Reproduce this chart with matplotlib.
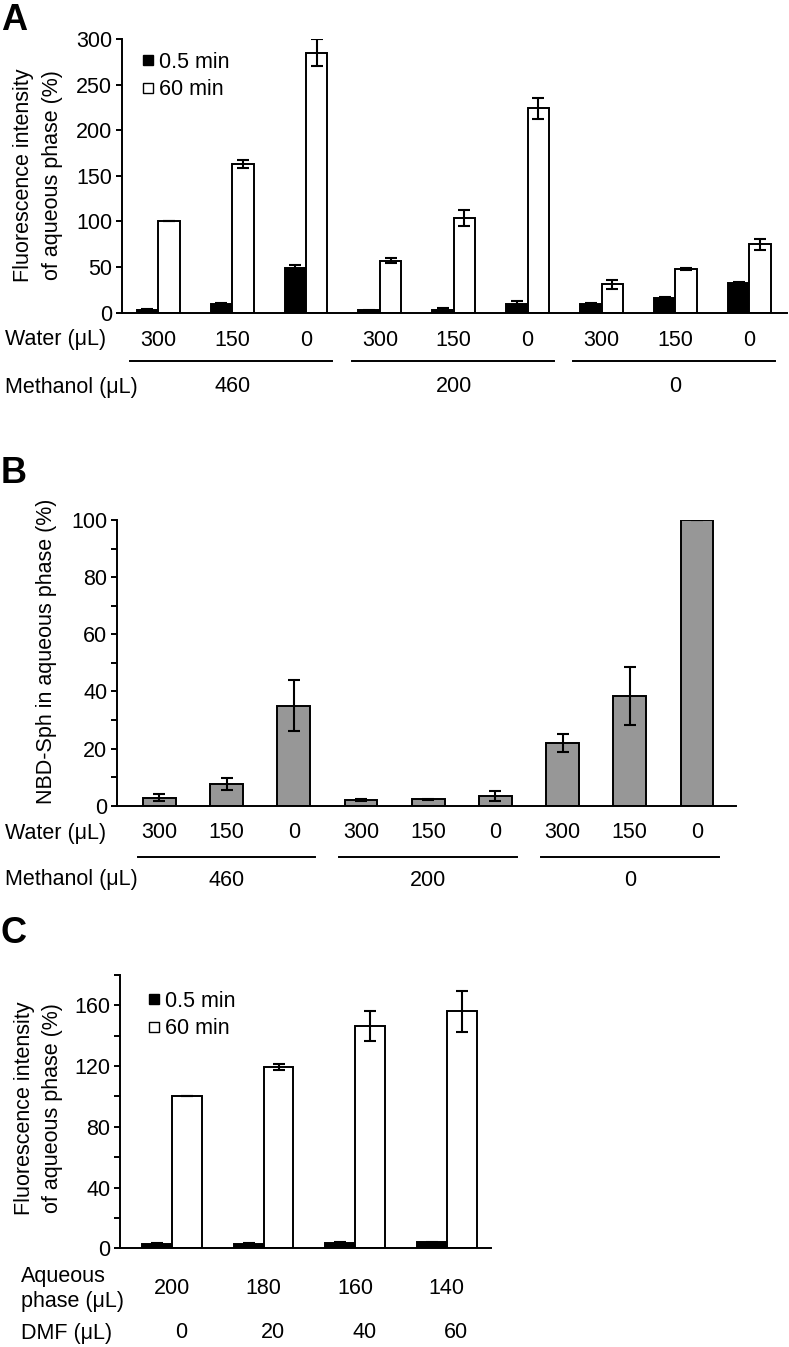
import matplotlib
matplotlib.use('Agg')
import matplotlib.pyplot as plt
from matplotlib.lines import Line2D
from matplotlib.transforms import blended_transform_factory
from matplotlib.ticker import MultipleLocator
import numpy as np

plt.rcParams['font.family'] = ['Liberation Sans', 'DejaVu Sans']
plt.rcParams['font.size'] = 15.5

W, H = 789, 1347

# ---- panel A data ----
water_a = ['300', '150', '0'] * 3
methanol_a = ['460', '200', '0']
a_short = [3.5, 10, 49, 2.5, 3, 9, 10, 16, 33]
a_short_err = [0.5, 0.5, 3, 0.5, 2.5, 4, 0.5, 1, 1]
a_long = [100, 163, 285, 57, 104, 224, 31, 48, 75]
a_long_err = [0, 4, 15, 2.5, 8.5, 11.5, 5, 1.5, 6]

# ---- panel B data ----
water_b = ['300', '150', '0'] * 3
methanol_b = ['460', '200', '0']
b_vals = [2.8, 7.6, 35, 2, 2.2, 3.5, 22, 38.5, 100]
b_err = [1.3, 2, 9, 0.3, 0.3, 1.7, 3.2, 10.2, 0]

# ---- panel C data ----
aqueous_c = ['200', '180', '160', '140']
dmf_c = ['0', '20', '40', '60']
c_short = [3, 3, 3.5, 4]
c_short_err = [0.4, 0.4, 0.4, 0.4]
c_long = [100, 119.5, 146.5, 156]
c_long_err = [0, 2.2, 10, 13.5]

legend_labels = ['0.5 min', '60 min']
LW = 1.4


def fx(px):
    return px / W


def fy(px):
    return 1 - px / H


fig = plt.figure(figsize=(W / 100, H / 100), dpi=100)


def add_axes(l, t, r, b):
    return fig.add_axes([l / W, 1 - b / H, (r - l) / W, (b - t) / H])


def style(ax):
    for s in ['top', 'right']:
        ax.spines[s].set_visible(False)
    for s in ['left', 'bottom']:
        ax.spines[s].set_linewidth(LW)
    ax.tick_params(axis='y', which='both', direction='out', length=4, width=LW, pad=3)
    ax.tick_params(axis='x', length=0, labelbottom=False)


def add_legend(ax, x, y):
    handles = [Line2D([], [], marker='s', ls='none', ms=7, mfc=c, mec='black', mew=1)
               for c in ('black', 'white')]
    ax.legend(handles, legend_labels, loc='center left',
              bbox_to_anchor=(fx(x), fy(y)), bbox_transform=fig.transFigure,
              frameon=False, handlelength=0.55, handletextpad=0.25,
              labelspacing=0.32, borderpad=0, borderaxespad=0)


ebkw = dict(ecolor='black', elinewidth=1.5, capsize=4.5, capthick=1.5)

# ================= A =================
axA = add_axes(122, 39, 787, 312.7)
style(axA)
x = np.arange(len(a_short))
bw = 0.29
axA.bar(x - bw / 2, a_short, bw, color='black', edgecolor='black', linewidth=LW,
        yerr=a_short_err, error_kw=ebkw)
axA.bar(x + bw / 2, a_long, bw, color='white', edgecolor='black', linewidth=LW,
        yerr=a_long_err, error_kw=ebkw)
axA.set_xlim(-0.49, 8.51)
axA.set_ylim(0, 300)
axA.yaxis.set_major_locator(MultipleLocator(50))
add_legend(axA, 142, 76)

trA = blended_transform_factory(axA.transData, fig.transFigure)
fig.text(fx(5), fy(340), 'Water (μL)', ha='left', va='center')
fig.text(fx(5), fy(387), 'Methanol (μL)', ha='left', va='center')
for i, lab in enumerate(water_a):
    axA.text(x[i], fy(340), lab, ha='center', va='center', transform=trA)
for g, lab in enumerate(methanol_a):
    axA.text(3 * g + 1, fy(387), lab, ha='center', va='center', transform=trA)
    axA.plot([3 * g - 0.38, 3 * g + 2.35], [fy(361), fy(361)], color='black',
             lw=LW, transform=trA, clip_on=False)
fig.text(fx(38), fy(175), 'Fluorescence intensity\nof aqueous phase (%)',
         rotation=90, ha='center', va='center', multialignment='center', linespacing=1.45)
fig.text(fx(1), fy(3), 'A', fontsize=26, fontweight='bold', ha='left', va='top')

# ================= B =================
axB = add_axes(117, 520, 736, 805.7)
style(axB)
xb = np.arange(len(b_vals))
axB.bar(xb, b_vals, 0.49, color='#979797', edgecolor='black', linewidth=LW,
        yerr=b_err, error_kw=ebkw)
axB.set_xlim(-0.63, 8.58)
axB.set_ylim(0, 100)
axB.yaxis.set_major_locator(MultipleLocator(20))
axB.yaxis.set_minor_locator(MultipleLocator(10))

trB = blended_transform_factory(axB.transData, fig.transFigure)
fig.text(fx(5), fy(833), 'Water (μL)', ha='left', va='center')
fig.text(fx(5), fy(880), 'Methanol (μL)', ha='left', va='center')
for i, lab in enumerate(water_b):
    axB.text(xb[i], fy(833), lab, ha='center', va='center', transform=trB)
for g, lab in enumerate(methanol_b):
    axB.text(3 * g + 1, fy(880), lab, ha='center', va='center', transform=trB)
    axB.plot([3 * g - 0.32, 3 * g + 2.32], [fy(857), fy(857)], color='black',
             lw=LW, transform=trB, clip_on=False)
fig.text(fx(47), fy(651), 'NBD-Sph in aqueous phase (%)',
         rotation=90, ha='center', va='center')
fig.text(fx(1), fy(456), 'B', fontsize=26, fontweight='bold', ha='left', va='top')

# ================= C =================
axC = add_axes(120, 975, 490.7, 1248.3)
style(axC)
xc = np.arange(len(c_short))
bwc = 0.327
axC.bar(xc - bwc / 2, c_short, bwc, color='black', edgecolor='black', linewidth=LW,
        yerr=c_short_err, error_kw=ebkw)
axC.bar(xc + bwc / 2, c_long, bwc, color='white', edgecolor='black', linewidth=LW,
        yerr=c_long_err, error_kw=ebkw)
axC.set_xlim(-0.567, 3.48)
axC.set_ylim(0, 180)
axC.yaxis.set_major_locator(MultipleLocator(40))
axC.yaxis.set_minor_locator(MultipleLocator(20))
add_legend(axC, 148, 1015)

trC = blended_transform_factory(axC.transData, fig.transFigure)
fig.text(fx(21), fy(1289), 'Aqueous\nphase (μL)', ha='left', va='center', linespacing=1.2)
fig.text(fx(21), fy(1333), 'DMF (μL)', ha='left', va='center')
for i, lab in enumerate(aqueous_c):
    axC.text(xc[i], fy(1288), lab, ha='center', va='center', transform=trC)
for i, lab in enumerate(dmf_c):
    axC.text(xc[i] + 0.1, fy(1333), lab, ha='center', va='center', transform=trC)
fig.text(fx(38.5), fy(1108), 'Fluorescence intensity\nof aqueous phase (%)',
         rotation=90, ha='center', va='center', multialignment='center', linespacing=1.45)
fig.text(fx(1), fy(916), 'C', fontsize=26, fontweight='bold', ha='left', va='top')

fig.savefig('out.png', dpi=100)
